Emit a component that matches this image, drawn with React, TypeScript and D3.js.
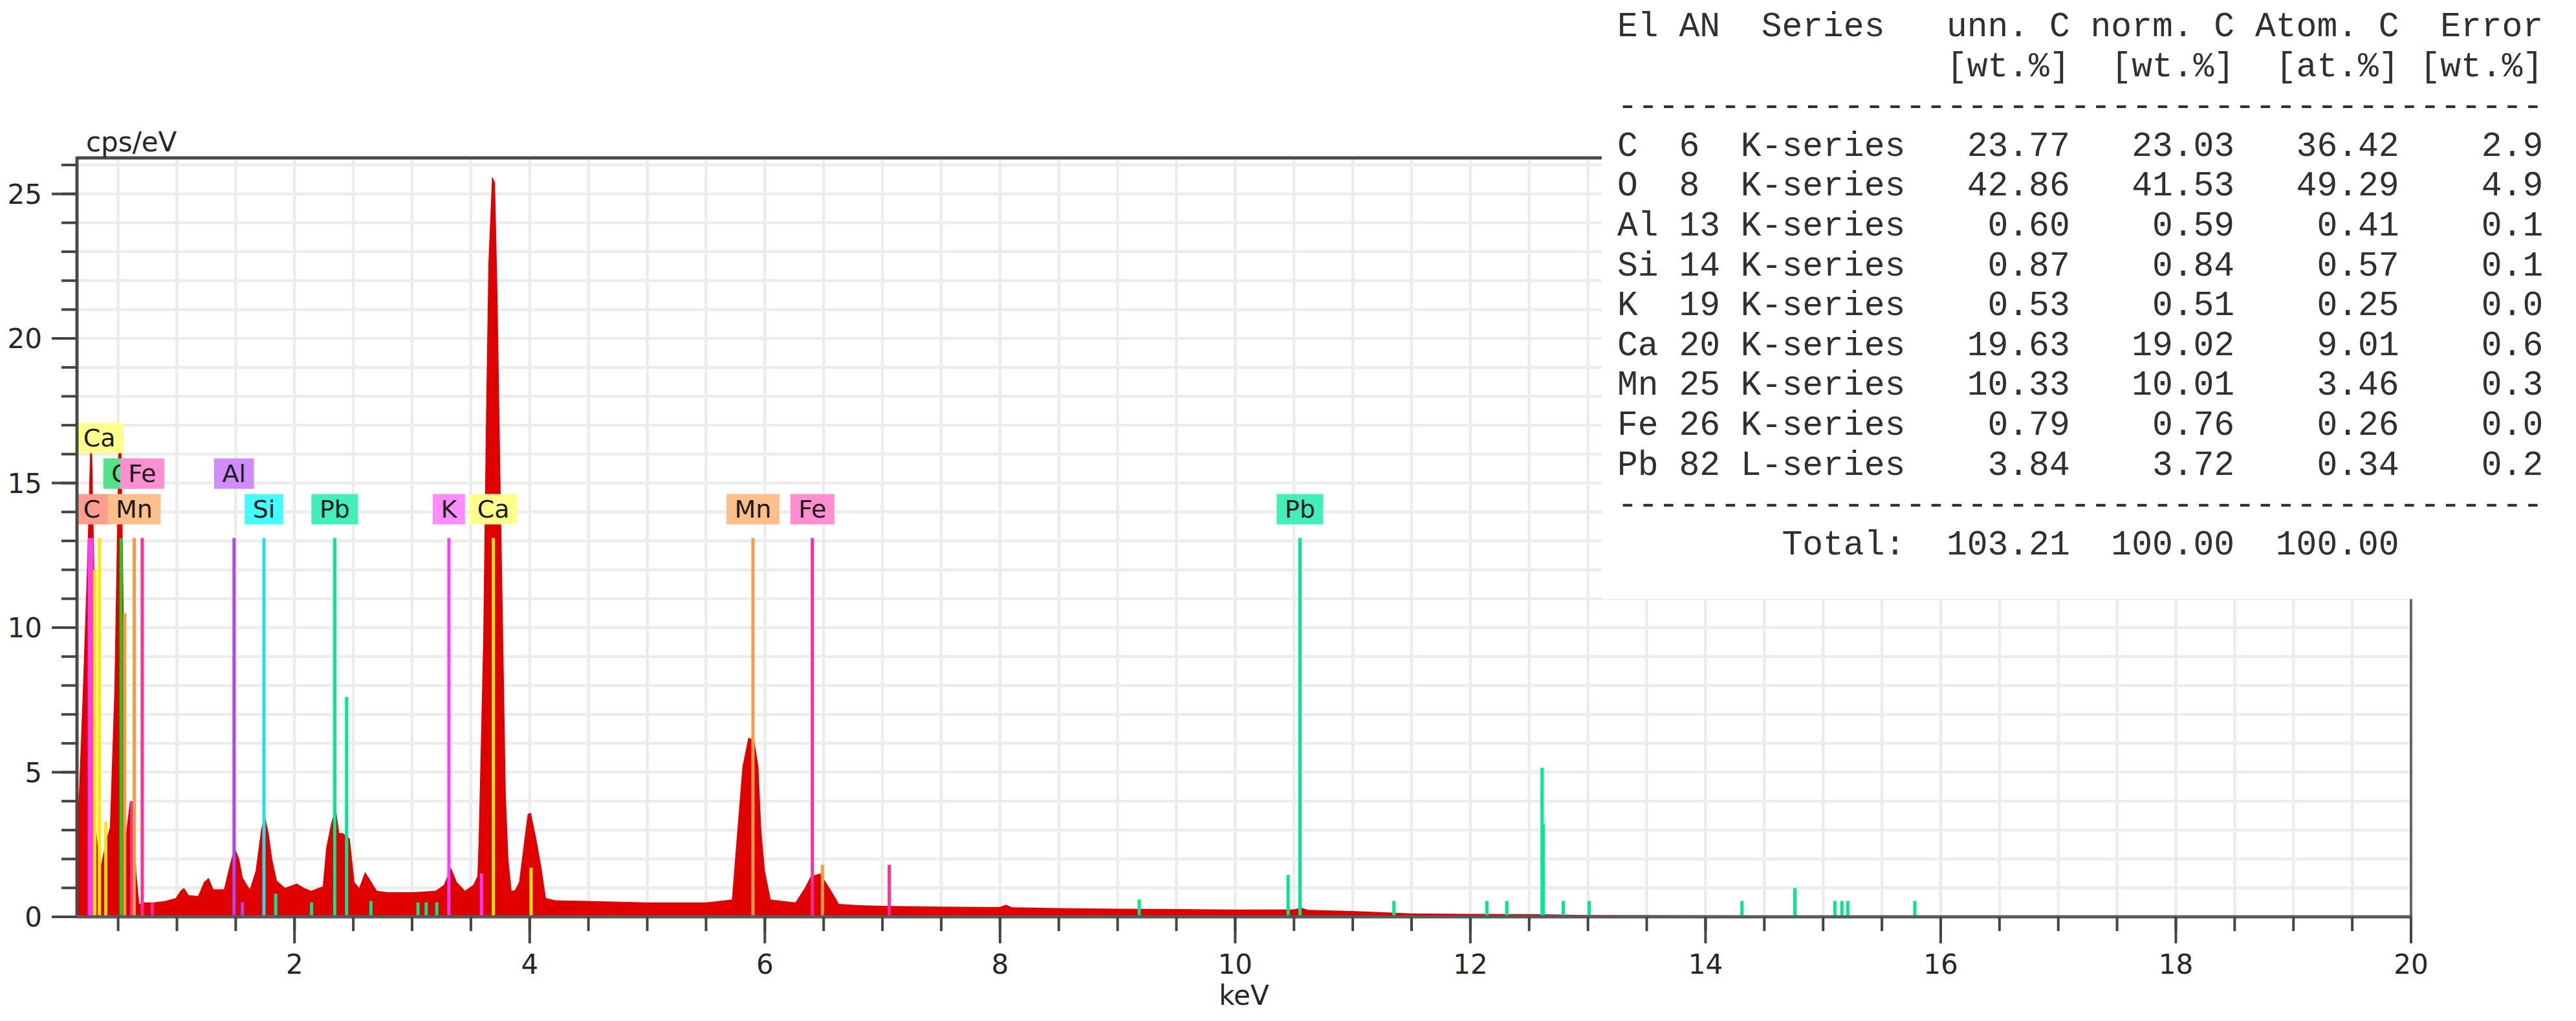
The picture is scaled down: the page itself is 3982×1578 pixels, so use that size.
import React, { useMemo } from "react";
import * as d3 from "d3";

const W = 3982;
const H = 1578;

// EDX spectrum (keV, cps/eV)
const spectrumKeV = [
  0.152, 0.168, 0.2, 0.235, 0.262, 0.279, 0.298, 0.314, 0.345, 0.39, 0.43, 0.468, 0.505, 0.527, 0.547,
  0.568, 0.6, 0.63, 0.655, 0.68, 0.72, 0.8, 0.9, 0.99, 1.03, 1.06, 1.1, 1.18, 1.23, 1.27, 1.31, 1.4,
  1.45, 1.49, 1.53, 1.56, 1.62, 1.67, 1.715, 1.745, 1.78, 1.81, 1.85, 1.92, 2.02, 2.08, 2.14, 2.24,
  2.27, 2.31, 2.35, 2.38, 2.41, 2.47, 2.51, 2.55, 2.6, 2.64, 2.7, 2.8, 3.0, 3.2, 3.27, 3.33, 3.38,
  3.45, 3.52, 3.555, 3.565, 3.58, 3.605, 3.627, 3.649, 3.68, 3.705, 3.725, 3.749, 3.773, 3.797,
  3.819, 3.846, 3.874, 3.91, 3.956, 3.983, 4.01, 4.056, 4.1, 4.138, 4.22, 4.5, 5.0, 5.5, 5.72,
  5.76, 5.81, 5.86, 5.91, 5.945, 5.97, 6.0, 6.05, 6.26, 6.34, 6.39, 6.47, 6.55, 6.63, 6.8, 7.0,
  7.5, 8.0, 8.05, 8.1, 8.5, 9.0, 9.5, 10.0, 10.5, 10.56, 10.62, 11.0, 11.5, 12.0, 12.6, 13.0,
  14.0, 15.0, 16.0, 17.0, 20.0,
];
const spectrumCps = [
  3.4, 4.4, 7.8, 12.0, 16.1, 16.0, 12.0, 3.0, 1.6, 2.5, 3.1, 7.8, 16.7, 16.6, 10.5,
  2.9, 4.0, 3.8, 1.5, 0.45, 0.5, 0.5, 0.55, 0.65, 0.9, 1.0, 0.75, 0.72, 1.2, 1.35, 0.95, 0.95,
  1.8, 2.4, 2.0, 1.35, 0.95, 1.6, 3.0, 3.55, 2.9, 2.0, 1.25, 1.0, 1.15, 1.0, 0.9, 1.05,
  2.4, 3.2, 3.8, 2.9, 2.9, 2.7, 1.2, 1.0, 1.55, 1.3, 0.9, 0.85, 0.85, 0.9, 1.1, 1.7, 1.2,
  0.9, 1.1, 1.4, 2.5, 5.1, 9.6, 16.8, 22.6, 25.6, 25.4, 21.8, 15.7, 10.0, 4.2,
  2.0, 0.9, 0.92, 1.2, 2.7, 3.55, 3.6, 2.7, 1.7, 0.65, 0.57, 0.55, 0.5, 0.5, 0.6,
  2.67, 5.2, 6.2, 6.1, 5.2, 3.0, 1.6, 0.6, 0.5, 1.0, 1.4, 1.5, 1.0, 0.45, 0.4, 0.38,
  0.35, 0.34, 0.42, 0.33, 0.3, 0.28, 0.27, 0.25, 0.26, 0.32, 0.24, 0.2, 0.12, 0.1, 0.09, 0.06,
  0.05, 0.04, 0.02, 0.01, 0.0,
];

// element line markers
const markerEl = [
  "K", "C", "Ca", "Ca", "Ca", "O", "Mn", "Fe", "Mn", "Fe", "Fe",
  "Al", "Al", "Si", "Pb", "Pb", "Pb", "Pb", "Pb", "Pb", "Pb", "Pb",
  "K", "K", "Ca", "Ca", "Mn", "Fe", "Mn", "Fe",
  "Pb", "Pb", "Pb", "Pb", "Pb", "Pb", "Pb", "Pb", "Pb", "Pb", "Pb", "Pb", "Pb", "Pb", "Pb", "Pb",
];
const markerKeV = [
  0.255, 0.277, 0.302, 0.341, 0.395, 0.525, 0.556, 0.615, 0.637, 0.705, 0.79,
  1.486, 1.557, 1.74, 1.84, 2.145, 2.342, 2.443, 2.65, 3.05, 3.12, 3.21,
  3.313, 3.59, 3.691, 4.012, 5.899, 6.404, 6.49, 7.058,
  9.184, 10.45, 10.551, 11.35, 12.14, 12.31, 12.61, 12.62, 12.79, 13.01, 14.31, 14.76, 15.1, 15.16, 15.21, 15.78,
];
const markerCps = [
  13.1, 13.1, 12.0, 13.1, 3.3, 13.1, 10.5, 4.0, 13.1, 13.1, 0.5,
  13.1, 0.5, 13.1, 0.8, 0.5, 13.1, 7.6, 0.55, 0.5, 0.5, 0.5,
  13.1, 1.5, 13.1, 1.7, 13.1, 13.1, 1.8, 1.8,
  0.6, 1.45, 13.1, 0.55, 0.55, 0.55, 5.15, 3.2, 0.55, 0.55, 0.55, 1.0, 0.55, 0.55, 0.55, 0.55,
];

// element labels (row: 0 lowest, stacked upwards)
const labelEl = ["Ca", "O", "Fe", "C", "Mn", "Al", "Si", "Pb", "K", "Ca", "Mn", "Fe", "Pb"];
const labelKeV = [0.341, 0.525, 0.705, 0.277, 0.637, 1.486, 1.74, 2.342, 3.313, 3.691, 5.899, 6.404, 10.551];
const labelRow = [2, 1, 1, 0, 0, 1, 0, 0, 0, 0, 0, 0, 0];

// quantification table
const tblEl = ["C", "O", "Al", "Si", "K", "Ca", "Mn", "Fe", "Pb"];
const tblAN = [6, 8, 13, 14, 19, 20, 25, 26, 82];
const tblSeries = ["K-series", "K-series", "K-series", "K-series", "K-series", "K-series", "K-series", "K-series", "L-series"];
const tblUnn = ["23.77", "42.86", "0.60", "0.87", "0.53", "19.63", "10.33", "0.79", "3.84"];
const tblNorm = ["23.03", "41.53", "0.59", "0.84", "0.51", "19.02", "10.01", "0.76", "3.72"];
const tblAtom = ["36.42", "49.29", "0.41", "0.57", "0.25", "9.01", "3.46", "0.26", "0.34"];
const tblErr = ["2.9", "4.9", "0.1", "0.1", "0.0", "0.6", "0.3", "0.0", "0.2"];
const tblTotal = ["103.21", "100.00", "100.00"];

const xTicks = [2, 4, 6, 8, 10, 12, 14, 16, 18, 20];
const yTicks = [0, 5, 10, 15, 20, 25];

const labelFill: Record<string, string> = {
  C: "#ff9d90", O: "#52e38a", Al: "#d08cff", Si: "#44fbff", K: "#ff8cff",
  Ca: "#ffff8c", Mn: "#ffbf8a", Fe: "#ff8fd0", Pb: "#40f0b8",
};
const lineColor: Record<string, string> = {
  C: "#ff40d0", O: "#10d020", Al: "#a64cf0", Si: "#22e0e8", K: "#ff3cff",
  Ca: "#ffe800", Mn: "#ff9a40", Fe: "#ff2f9a", Pb: "#00e890",
};

const left = 119, right = 3727, top = 246, bottom = 1417;
const axisFont = "'DejaVu Sans', Verdana, sans-serif";

function textWidth(s: string, font: string) {
  const c = document.createElement("canvas").getContext("2d");
  if (!c) return s.length * 22;
  c.font = font;
  return c.measureText(s).width;
}

export default function App() {
  const x = d3.scaleLinear().domain([0.15, 20]).range([left, right]);
  const y = d3.scaleLinear().domain([0, 26.2]).range([bottom, top]);

  const spectrum = spectrumKeV.map((k, i) => [k, spectrumCps[i]] as [number, number]);
  const areaPath = d3
    .area<[number, number]>()
    .x(d => x(d[0]))
    .y0(y(0))
    .y1(d => y(d[1]))
    .curve(d3.curveLinear)(spectrum) as string;

  const xMinor = d3.range(0.5, 20.01, 0.5);
  const yMinor = d3.range(1, 27, 1);

  const labelFont = "38px 'DejaVu Sans'";
  const widths = useMemo(() => labelEl.map(t => textWidth(t, labelFont) + 25), []);

  const lineTop = y(13.1);
  const boxH = 47;

  const pad = (s: string, n: number) => s.padStart(n, " ");
  const tableLines = [
    "El AN  Series   unn. C norm. C Atom. C  Error",
    "                [wt.%]  [wt.%]  [at.%] [wt.%]",
    "-".repeat(45),
    ...tblEl.map((el, i) =>
      el.padEnd(3, " ") + String(tblAN[i]).padEnd(3, " ") + tblSeries[i] +
      pad(tblUnn[i], 8) + pad(tblNorm[i], 8) + pad(tblAtom[i], 8) + pad(tblErr[i], 7)
    ),
    "-".repeat(45),
    "        Total:" + pad(tblTotal[0], 8) + pad(tblTotal[1], 8) + pad(tblTotal[2], 8),
  ];

  return (
    <>
      <style>{"body{margin:0;overflow:hidden;background:#fff}"}</style>
      <svg width={W} height={H} style={{ display: "block" }}>
        <defs>
          <clipPath id="plot">
            <rect x={left} y={top} width={right - left} height={bottom - top} />
          </clipPath>
        </defs>
        <rect width={W} height={H} fill="#fff" />

        {/* grid */}
        <g stroke="#ececec" strokeWidth={4.5}>
          {yMinor.map(v => (
            <line key={"gy" + v} x1={left} x2={right} y1={y(v)} y2={y(v)} />
          ))}
          {xMinor.map(v => (
            <line key={"gx" + v} x1={x(v)} x2={x(v)} y1={top} y2={bottom} />
          ))}
        </g>

        <g clipPath="url(#plot)">
          <path d={areaPath} fill="#e00000" />
          {markerKeV.map((k, i) => (
            <line
              key={"m" + i}
              x1={x(k)}
              x2={x(k)}
              y1={y(0)}
              y2={y(markerCps[i])}
              stroke={lineColor[markerEl[i]]}
              strokeWidth={5}
            />
          ))}
          {labelEl.map((el, i) => {
            const cx = x(labelKeV[i]);
            const w = widths[i];
            const by = lineTop - 21 - boxH - labelRow[i] * 55;
            return (
              <g key={"l" + i}>
                <rect x={cx - w / 2} y={by} width={w} height={boxH} fill={labelFill[el]} />
                <text
                  x={cx}
                  y={by + boxH / 2 + 13}
                  textAnchor="middle"
                  fontFamily={axisFont}
                  fontSize={38}
                  fill="#1a1a1a"
                >
                  {el}
                </text>
              </g>
            );
          })}
        </g>

        {/* frame */}
        <g stroke="#4a4a4a" fill="none">
          <line x1={left} x2={right} y1={top - 2} y2={top - 2} strokeWidth={5} />
          <line x1={right} x2={right} y1={top} y2={bottom} strokeWidth={4} stroke="#666" />
          <line x1={left} x2={left} y1={top - 4} y2={bottom + 2} strokeWidth={5} />
          <line x1={left} x2={right + 2} y1={bottom} y2={bottom} strokeWidth={5} stroke="#5a5a5a" />
        </g>

        {/* y ticks */}
        <g stroke="#444" strokeWidth={4}>
          {yMinor.map(v => (
            <line key={"yt" + v} x1={left - 24} x2={left} y1={y(v)} y2={y(v)} />
          ))}
          {yTicks.map(v => (
            <line key={"yT" + v} x1={left - 39} x2={left} y1={y(v)} y2={y(v)} />
          ))}
        </g>
        <g fontFamily={axisFont} fontSize={42} fill="#262626">
          {yTicks.map(v => (
            <text key={"yl" + v} x={left - 54} y={y(v) + 15} textAnchor="end">
              {v}
            </text>
          ))}
          <text x={133} y={234}>cps/eV</text>
        </g>

        {/* x ticks */}
        <g stroke="#444" strokeWidth={4}>
          {xMinor.map(v => (
            <line key={"xt" + v} x1={x(v)} x2={x(v)} y1={bottom} y2={bottom + 22} />
          ))}
          {xTicks.map(v => (
            <line key={"xT" + v} x1={x(v)} x2={x(v)} y1={bottom} y2={bottom + 41} />
          ))}
        </g>
        <g fontFamily={axisFont} fontSize={42} fill="#262626" textAnchor="middle">
          {xTicks.map(v => (
            <text key={"xl" + v} x={x(v)} y={1505}>
              {v}
            </text>
          ))}
          <text x={(left + right) / 2} y={1553}>keV</text>
        </g>

        {/* quantification table */}
        <rect x={2476} y={0} width={W - 2476} height={926} fill="#fff" />
        <g fontFamily="'Liberation Mono', 'Courier New', monospace" fontSize={53} fill="#303030">
          {tableLines.map((s, i) => (
            <text key={"t" + i} x={2500} y={56 + 61.6 * i} style={{ whiteSpace: "pre" }}>
              {s}
            </text>
          ))}
        </g>
      </svg>
    </>
  );
}
